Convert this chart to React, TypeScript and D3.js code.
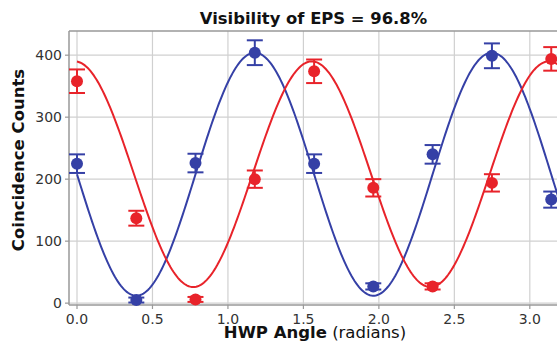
import React from "react";
import * as d3 from "d3";

const angles = [0, 0.393, 0.785, 1.178, 1.571, 1.963, 2.356, 2.749, 3.142];
const blueCounts = [225, 5, 226, 404, 225, 27, 240, 399, 167];
const blueErrors = [15, 4, 15, 20, 15, 5, 15, 20, 13];
const redCounts = [358, 137, 6, 200, 374, 186, 27, 194, 394];
const redErrors = [19, 12, 4, 14, 19, 14, 5, 14, 19];

// fitted cosine model parameters: offset, amplitude, phase (radians)
const blueFit = [208, 196, 1.178];
const redFit = [208, 182, -0.015];

const xTicks = [0, 0.5, 1.0, 1.5, 2.0, 2.5, 3.0];
const yTicks = [0, 100, 200, 300, 400];

const BLUE = "#3540a6";
const RED = "#e8232a";

export default function App() {
  const W = 557, H = 345;
  const left = 69, right = 560, top = 31, bottom = 305;
  const x = d3.scaleLinear().domain([-0.053, 3.2]).range([left, right]);
  const y = d3.scaleLinear().domain([-3, 439]).range([bottom, top]);

  const curveXs = d3.range(0, 3.2, 0.01);
  const model = (p: number[]) => (t: number) => p[0] + p[1] * Math.cos(4 * (t - p[2]));
  const line = (p: number[]) =>
    d3.line<number>().x((t) => x(t)).y((t) => y(model(p)(t)))(curveXs) || "";

  const series = [
    { c: blueCounts, e: blueErrors, color: BLUE, fit: blueFit },
    { c: redCounts, e: redErrors, color: RED, fit: redFit },
  ];

  return (
    <svg width={W} height={H} style={{ position: "absolute", left: 0, top: 0, background: "#fff" }}
      fontFamily="DejaVu Sans, sans-serif">
      <defs>
        <clipPath id="plot">
          <rect x={left} y={top} width={right - left} height={bottom - top} />
        </clipPath>
      </defs>
      {xTicks.map((t) => (
        <line key={"gx" + t} x1={x(t)} x2={x(t)} y1={top} y2={bottom} stroke="#d0d0d0" strokeWidth={1.2} />
      ))}
      {yTicks.map((t) => (
        <line key={"gy" + t} x1={left} x2={right} y1={y(t)} y2={y(t)} stroke="#d0d0d0" strokeWidth={1.2} />
      ))}
      <line x1={left} x2={right} y1={top} y2={top} stroke="#999" strokeWidth={1.5} />
      <line x1={left} x2={left} y1={top} y2={bottom} stroke="#999" strokeWidth={1.5} />
      <line x1={left} x2={right} y1={bottom} y2={bottom} stroke="#999" strokeWidth={1.5} />
      {xTicks.map((t) => (
        <g key={"tx" + t}>
          <line x1={x(t)} x2={x(t)} y1={bottom} y2={bottom + 4} stroke="#999" strokeWidth={1.2} />
          <text x={x(t)} y={bottom + 19} textAnchor="middle" fontSize={14} fill="#333">{t.toFixed(1)}</text>
        </g>
      ))}
      {yTicks.map((t) => (
        <g key={"ty" + t}>
          <line x1={left - 4} x2={left} y1={y(t)} y2={y(t)} stroke="#999" strokeWidth={1.2} />
          <text x={left - 7} y={y(t) + 5} textAnchor="end" fontSize={14} fill="#333">{t}</text>
        </g>
      ))}
      <g clipPath="url(#plot)">
        {series.map((s, i) => (
          <path key={"c" + i} d={line(s.fit)} fill="none" stroke={s.color} strokeWidth={2} />
        ))}
      </g>
      {series.map((s, i) => (
        <g key={"p" + i}>
          {angles.map((a, j) => {
            const cx = x(a), hi = y(s.c[j] + s.e[j]), lo = y(s.c[j] - s.e[j]);
            return (
              <g key={j}>
                <line x1={cx} x2={cx} y1={hi} y2={lo} stroke={s.color} strokeWidth={2} />
                <line x1={cx - 8} x2={cx + 8} y1={hi} y2={hi} stroke={s.color} strokeWidth={2} />
                <line x1={cx - 8} x2={cx + 8} y1={lo} y2={lo} stroke={s.color} strokeWidth={2} />
                <circle cx={cx} cy={y(s.c[j])} r={6} fill={s.color} />
              </g>
            );
          })}
        </g>
      ))}
      <text x={313.5} y={23.5} textAnchor="middle" fontSize={16.4} fontWeight="bold" fill="#111">
        Visibility of EPS = 96.8%
      </text>
      <text transform={`translate(24,160) rotate(-90)`} textAnchor="middle"
        fontSize={16.5} fontWeight="bold" fill="#111">
        Coincidence Counts
      </text>
      <text x={315} y={338} textAnchor="middle" fontSize={16.5} fill="#111">
        <tspan fontWeight="bold">HWP Angle</tspan>
        <tspan> (radians)</tspan>
      </text>
    </svg>
  );
}
